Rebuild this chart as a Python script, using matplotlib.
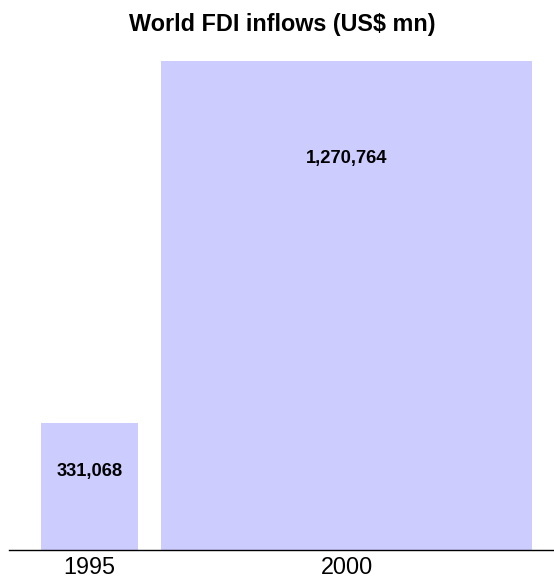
import matplotlib
matplotlib.use("Agg")
import matplotlib.pyplot as plt

plt.rcParams['font.family'] = ['Liberation Sans', 'DejaVu Sans']

# data
years = ['1995', '2000']
inflows = [331068, 1270764]   # US$ mn

# bars are drawn with width proportional to value, too
left_margin = 110000
gap = 79000
label_frac = [0.62, 0.80]     # where the value label sits inside each bar

fig = plt.figure(figsize=(5.54, 5.81), dpi=100)
ax = fig.add_axes([9 / 554, 31 / 581, 545 / 554, 489 / 581])

lefts = []
x = left_margin
for v in inflows:
    lefts.append(x)
    x += v + gap

ax.bar(lefts, inflows, width=inflows, align='edge', color='#ccccff', zorder=1)

for l, v, f in zip(lefts, inflows, label_frac):
    ax.text(l + v / 2, v * f, f"{v:,}", ha='center', va='center',
            fontsize=13.2, fontweight='bold', color='black')

ax.set_xlim(0, 1864500)
ax.set_ylim(0, max(inflows))
ax.set_xticks([l + v / 2 for l, v in zip(lefts, inflows)])
ax.set_xticklabels(years, fontsize=16.8)
ax.tick_params(axis='x', length=0, pad=4.5)
ax.set_yticks([])
for s in ['top', 'left', 'right']:
    ax.spines[s].set_visible(False)
ax.spines['bottom'].set_linewidth(1.0)
ax.spines['bottom'].set_zorder(3)

fig.text(0.51, 1 - 24 / 581, 'World FDI inflows (US$ mn)', ha='center', va='center',
         fontsize=16.8, fontweight='bold')

fig.savefig('out.png', dpi=100)
